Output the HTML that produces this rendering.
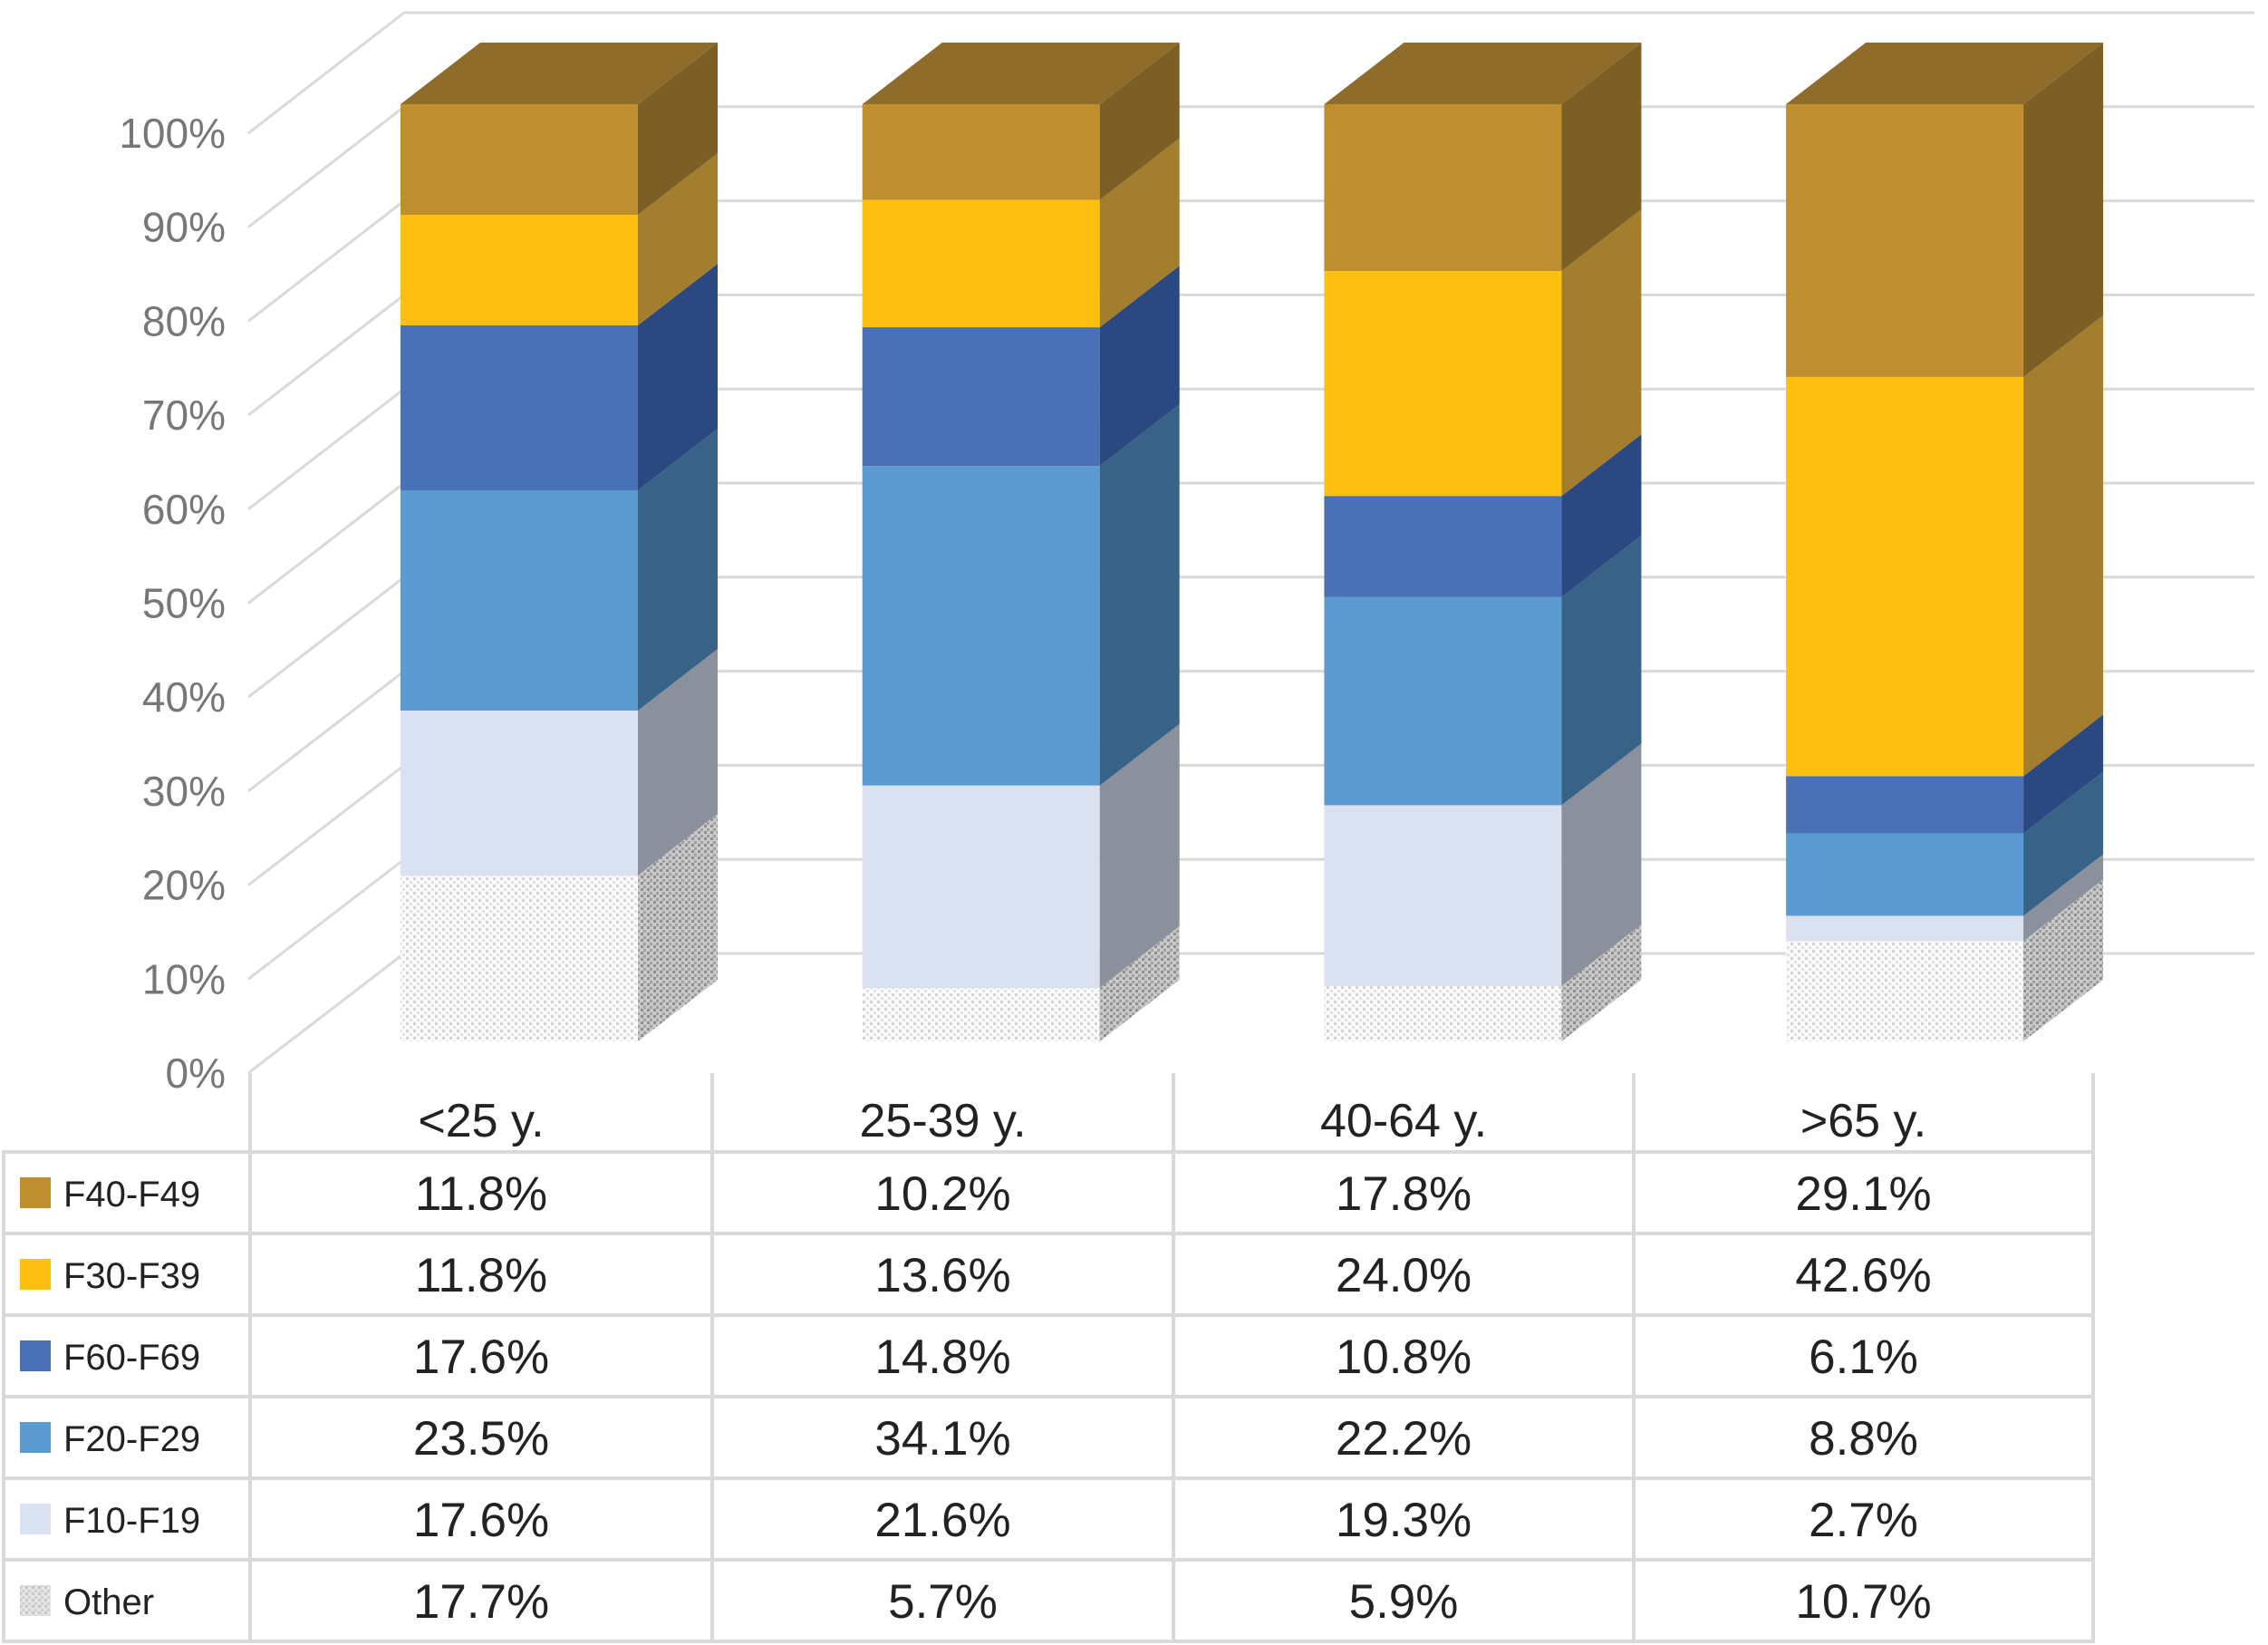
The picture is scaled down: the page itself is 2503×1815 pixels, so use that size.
<!DOCTYPE html>
<html><head><meta charset="utf-8"><style>
html,body{margin:0;padding:0;background:#fff;}
svg{display:block;}
text{font-family:"Liberation Sans",Arial,sans-serif;}
</style></head><body>
<svg id="chart" width="2503" height="1815" viewBox="0 0 2503 1815" xmlns="http://www.w3.org/2000/svg">
<defs>
<pattern id="dotsFront" width="8" height="8" patternUnits="userSpaceOnUse">
<rect width="8" height="8" fill="#fafafa"/>
<rect x="0" y="0" width="3" height="3" fill="#d4d4d4"/>
<rect x="4" y="4" width="3" height="3" fill="#e2e2e2"/>
</pattern>
<pattern id="dotsSide" width="7" height="7" patternUnits="userSpaceOnUse">
<rect width="7" height="7" fill="#c8c8c8"/>
<rect x="0" y="0" width="3" height="3" fill="#8e8e8e"/>
<rect x="3" y="4" width="3" height="3" fill="#a0a0a0"/>
</pattern>
</defs>
<g id="grid"></g>
<g id="bars"></g>
<g id="table"></g>
</svg>
<script>
const categories = ["<25 y.", "25-39 y.", "40-64 y.", ">65 y."];
const seriesNames = ["F40-F49", "F30-F39", "F60-F69", "F20-F29", "F10-F19", "Other"];
const valF40 = [11.8, 10.2, 17.8, 29.1];
const valF30 = [11.8, 13.6, 24.0, 42.6];
const valF60 = [17.6, 14.8, 10.8, 6.1];
const valF20 = [23.5, 34.1, 22.2, 8.8];
const valF10 = [17.6, 21.6, 19.3, 2.7];
const valOther = [17.7, 5.7, 5.9, 10.7];
const yTicks = [0, 10, 20, 30, 40, 50, 60, 70, 80, 90, 100];

const NS = "http://www.w3.org/2000/svg";
function mk(tag, attrs, parent) {
  const e = document.createElementNS(NS, tag);
  for (const k in attrs) e.setAttribute(k, attrs[k]);
  parent.appendChild(e);
  return e;
}
const series = [valF40, valF30, valF60, valF20, valF10, valOther];
const fronts = ["#BE8E2F", "#FDC010", "#4A71B5", "#5B9BD1", "#DAE1F0", "url(#dotsFront)"];
const sides = ["#7C5F24", "#A37E2F", "#2B4880", "#386387", "#8A919D", "url(#dotsSide)"];

const tickY = v => 1184 - v * 10.37;
const backY = v => 1052 - v * 10.38;
const barY = v => 1149 - v * 10.34;
const barX = i => 442 + i * 509.7;
const BW = 262, DX = 88, DY = 68;

const grid = document.getElementById("grid");
yTicks.forEach(t => {
  const l1 = mk("line", {x1: 274, y1: tickY(t), x2: 446, y2: backY(t), stroke: "#d9d9d9", "stroke-width": 3}, grid);
  
  
  const l2 = mk("line", {x1: 446, y1: backY(t), x2: 2488, y2: backY(t), stroke: "#d9d9d9", "stroke-width": 3}, grid);
  
  
  const tx = mk("text", {x: 249, y: tickY(t) + 16, "text-anchor": "end", "font-size": 46, fill: "#777"}, grid);
  tx.textContent = t + "%";
  
  
});

const bars = document.getElementById("bars");
categories.forEach((c, i) => {
  const x = barX(i);
  const g = mk("g", {}, bars);
  
  
  let cum = 0;
  for (let s = series.length - 1; s >= 0; s--) {
    const v0 = cum, v1 = cum + series[s][i];
    cum = v1;
    const y0 = barY(v0), y1 = barY(v1);
    const f = mk("rect", {x: x, y: y1, width: BW, height: y0 - y1, fill: fronts[s]}, g);
    
    
    const sd = mk("polygon", {points: `${x+BW},${y0} ${x+BW+DX},${y0-DY} ${x+BW+DX},${y1-DY} ${x+BW},${y1}`, fill: sides[s]}, g);
    
    
  }
  const yt = barY(cum);
  const top = mk("polygon", {points: `${x},${yt} ${x+DX},${yt-DY} ${x+BW+DX},${yt-DY} ${x+BW},${yt}`, fill: "#8F6C2A"}, g);
  
  
});

const tbl = document.getElementById("table");
const colX = [276, 786, 1295, 1803, 2310];
const rowY = [1271, 1361, 1451, 1541, 1631, 1721, 1811];
const lc = "#d9d9d9";
colX.forEach(cx => {
  const l = mk("line", {x1: cx, y1: 1184, x2: cx, y2: 1813, stroke: lc, "stroke-width": 4}, tbl);
  
  
});
const lb = mk("line", {x1: 4, y1: 1271, x2: 4, y2: 1813, stroke: lc, "stroke-width": 4}, tbl);


rowY.forEach(ry => {
  const l = mk("line", {x1: 2, y1: ry, x2: 2312, y2: ry, stroke: lc, "stroke-width": 4}, tbl);
  
  
});
categories.forEach((c, i) => {
  const t = mk("text", {x: (colX[i] + colX[i+1]) / 2, y: 1254, "text-anchor": "middle", "font-size": 52, fill: "#222"}, tbl);
  t.textContent = c;
  
  
});
seriesNames.forEach((n, r) => {
  const cy = (rowY[r] + rowY[r+1]) / 2;
  const sw = mk("rect", {x: 22, y: cy - 17, width: 34, height: 34, fill: fronts[r] === "url(#dotsFront)" ? "url(#dotsSide)" : fronts[r], opacity: r === 5 ? 0.5 : 1}, tbl);
  
  
  const lt = mk("text", {x: 70, y: cy + 15, "font-size": 40, fill: "#222"}, tbl);
  lt.textContent = n;
  
  
  series[r].forEach((v, i) => {
    const vt = mk("text", {x: (colX[i] + colX[i+1]) / 2, y: cy + 19, "text-anchor": "middle", "font-size": 53, fill: "#222"}, tbl);
    vt.textContent = v.toFixed(1) + "%";
    
    
  });
});
</script>
</body></html>
